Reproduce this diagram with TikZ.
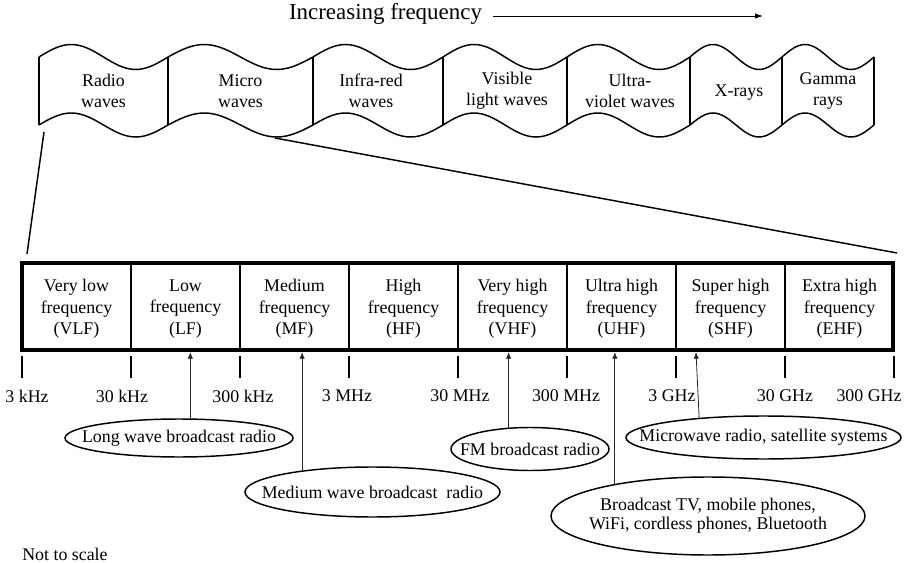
\documentclass[tikz,border=0pt]{standalone}
\usepackage{fontspec}
\setmainfont{Liberation Serif}
\usepackage{tikz}
\usetikzlibrary{shapes.geometric, arrows.meta}

\begin{document}
\begin{tikzpicture}[
  x=0.75pt, y=-0.75pt,
  every node/.style={font=\fontsize{13.4pt}{15.5pt}\selectfont},
  wavelbl/.style={align=center, inner sep=0pt},
  cell/.style={align=center, inner sep=0pt, font=\fontsize{13.4pt}{16pt}\selectfont},
  freq/.style={inner sep=0pt},
  oval/.style={draw, ellipse, line width=1.1pt, inner xsep=-40pt, inner ysep=0pt, align=center},
  pointer/.style={-{Latex[length=5pt, width=4pt]}, line width=0.6pt, black!85},
  wave/.style={line width=1.1pt},
  zoomline/.style={line width=1.1pt}
]
  \useasboundingbox (0,0) rectangle (911,563);

  % title and direction arrow
  \node[font=\fontsize{17.2pt}{20pt}\selectfont, inner sep=0pt] (title) at (385.5,14) {Increasing frequency};
  \coordinate (titleend) at (763,16);
  \draw[-{Latex[length=6pt, width=4pt]}, line width=0.6pt] ([shift={(11,2)}]title.east) -- (titleend);

  % the spectrum band
  \draw[wave] (39,57) sin (71.25,44.5) cos (103.5,57) sin (135.75,69.5) cos (168,57)
    sin (204.25,44.5) cos (240.5,57) sin (276.75,69.5) cos (313,57)
    sin (345.5,44.5) cos (378,57) sin (410.5,69.5) cos (443,57)
    sin (474,44.5) cos (505,57) sin (536,69.5) cos (567,57)
    sin (597.75,44.5) cos (628.5,57) sin (659.25,69.5) cos (690,57)
    sin (713,44.5) cos (736,57) sin (759,69.5) cos (782,57)
    sin (805,44.5) cos (828,57) sin (851,69.5) cos (874,57);
  \draw[wave] (39,125) sin (71.25,113) cos (103.5,125) sin (135.75,137) cos (168,125)
    sin (204.25,113) cos (240.5,125) sin (276.75,137) cos (313,125)
    sin (345.5,113) cos (378,125) sin (410.5,137) cos (443,125)
    sin (474,113) cos (505,125) sin (536,137) cos (567,125)
    sin (597.75,113) cos (628.5,125) sin (659.25,137) cos (690,125)
    sin (713,113) cos (736,125) sin (759,137) cos (782,125)
    sin (805,113) cos (828,125) sin (851,137) cos (874,125);
  \draw[line width=1.4pt] (39,57) -- (39,125) (168,57) -- (168,125) (313,57) -- (313,125)
    (443,57) -- (443,125) (567,57) -- (567,125) (690,57) -- (690,125)
    (782,57) -- (782,125) (874,57) -- (874,125);

  \node[wavelbl] (radio) at (103.5,91) {Radio\\waves};
  \node[wavelbl] (micro) at (240.5,91) {Micro\\waves};
  \node[wavelbl] (infra) at (371,91) {Infra-red\\waves};
  \node[wavelbl] (visible) at (507,91) {Visible\\light waves};
  \node[wavelbl] (ultra) at (630,91) {Ultra-\\violet waves};
  \node[wavelbl] (xrays) at (739,93) {X-rays};
  \node[wavelbl] (gamma) at (828,91) {Gamma\\rays};

  % radio frequency bands
  \node[draw, line width=3pt, minimum width=653.25pt, minimum height=65.25pt, inner sep=0pt] (band) at (457.5,306.5) {};
  \draw[line width=1.1pt] (131,263) -- (131,350) (240,263) -- (240,350) (349,263) -- (349,350)
    (458,263) -- (458,350) (567,263) -- (567,350) (676,263) -- (676,350) (785,263) -- (785,350);

  \coordinate (radiofoot) at (44,132);
  \coordinate (microfoot) at (275,138);
  \draw[zoomline] (radiofoot) -- ([shift={(7,-7)}]band.north west);
  \draw[zoomline] (microfoot) -- ([shift={(2,-8)}]band.north east);

  \node[cell] (vlf) at (76.5,309) {Very low\\frequency\\(VLF)};
  \node[cell] (lf) at (185.5,309) {Low\\frequency\\(LF)};
  \node[cell] (mf) at (294.5,309) {Medium\\frequency\\(MF)};
  \node[cell] (hf) at (403.5,309) {High\\frequency\\(HF)};
  \node[cell] (vhf) at (512.5,309) {Very high\\frequency\\(VHF)};
  \node[cell] (uhf) at (621.5,309) {Ultra high\\frequency\\(UHF)};
  \node[cell] (shf) at (730.5,309) {Super high\\frequency\\(SHF)};
  \node[cell] (ehf) at (839.5,309) {Extra high\\frequency\\(EHF)};

  % ticks and frequency limits
  \draw[line width=1.1pt] (22,356) -- (22,378) (131,356) -- (131,378) (240,356) -- (240,378)
    (349,356) -- (349,378) (458,356) -- (458,378) (567,356) -- (567,378)
    (676,356) -- (676,378) (785,356) -- (785,378) (894,356) -- (894,378);

  \node[freq] (f3k) at (27,396) {3 kHz};
  \node[freq] (f30k) at (122,396) {30 kHz};
  \node[freq] (f300k) at (243,396) {300 kHz};
  \node[freq] (f3m) at (347,396) {3 MHz};
  \node[freq] (f30m) at (460,396) {30 MHz};
  \node[freq] (f300m) at (566,396) {300 MHz};
  \node[freq] (f3g) at (672,396) {3 GHz};
  \node[freq] (f30g) at (785,396) {30 GHz};
  \node[freq] (f300g) at (869,396) {300 GHz};

  % uses
  \node[oval, minimum width=171pt, minimum height=28.5pt] (lw) at (179,438) {Long wave broadcast radio};
  \node[oval, minimum width=191.25pt, minimum height=37.5pt] (mw) at (372.5,492) {Medium wave broadcast \ radio};
  \node[oval, minimum width=118.5pt, minimum height=32.25pt] (fm) at (530,449) {FM broadcast radio};
  \node[oval, minimum width=206.25pt, minimum height=32.25pt] (mr) at (763.5,437.5) {Microwave radio, satellite systems};
  \node[oval, minimum width=235.5pt, minimum height=58.5pt, font=\fontsize{13.4pt}{14pt}\selectfont] (tv) at (708,516) {Broadcast TV, mobile phones,\\WiFi, cordless phones, Bluetooth};

  \coordinate (shfpt) at (696,352);
  \draw[pointer] (lw.60) -- (lw.60 |- band.south);
  \draw[pointer] (mw.163) -- (mw.163 |- band.south);
  \draw[pointer] (fm.135) -- (fm.135 |- band.south);
  \draw[pointer] (tv.161) -- (tv.161 |- band.south);
  \draw[pointer] (mr.163) -- (shfpt);

  \node[anchor=base west, inner sep=0pt, font=\fontsize{13.4pt}{15pt}\selectfont] (note) at (22,560) {Not to scale};
\end{tikzpicture}
\end{document}
